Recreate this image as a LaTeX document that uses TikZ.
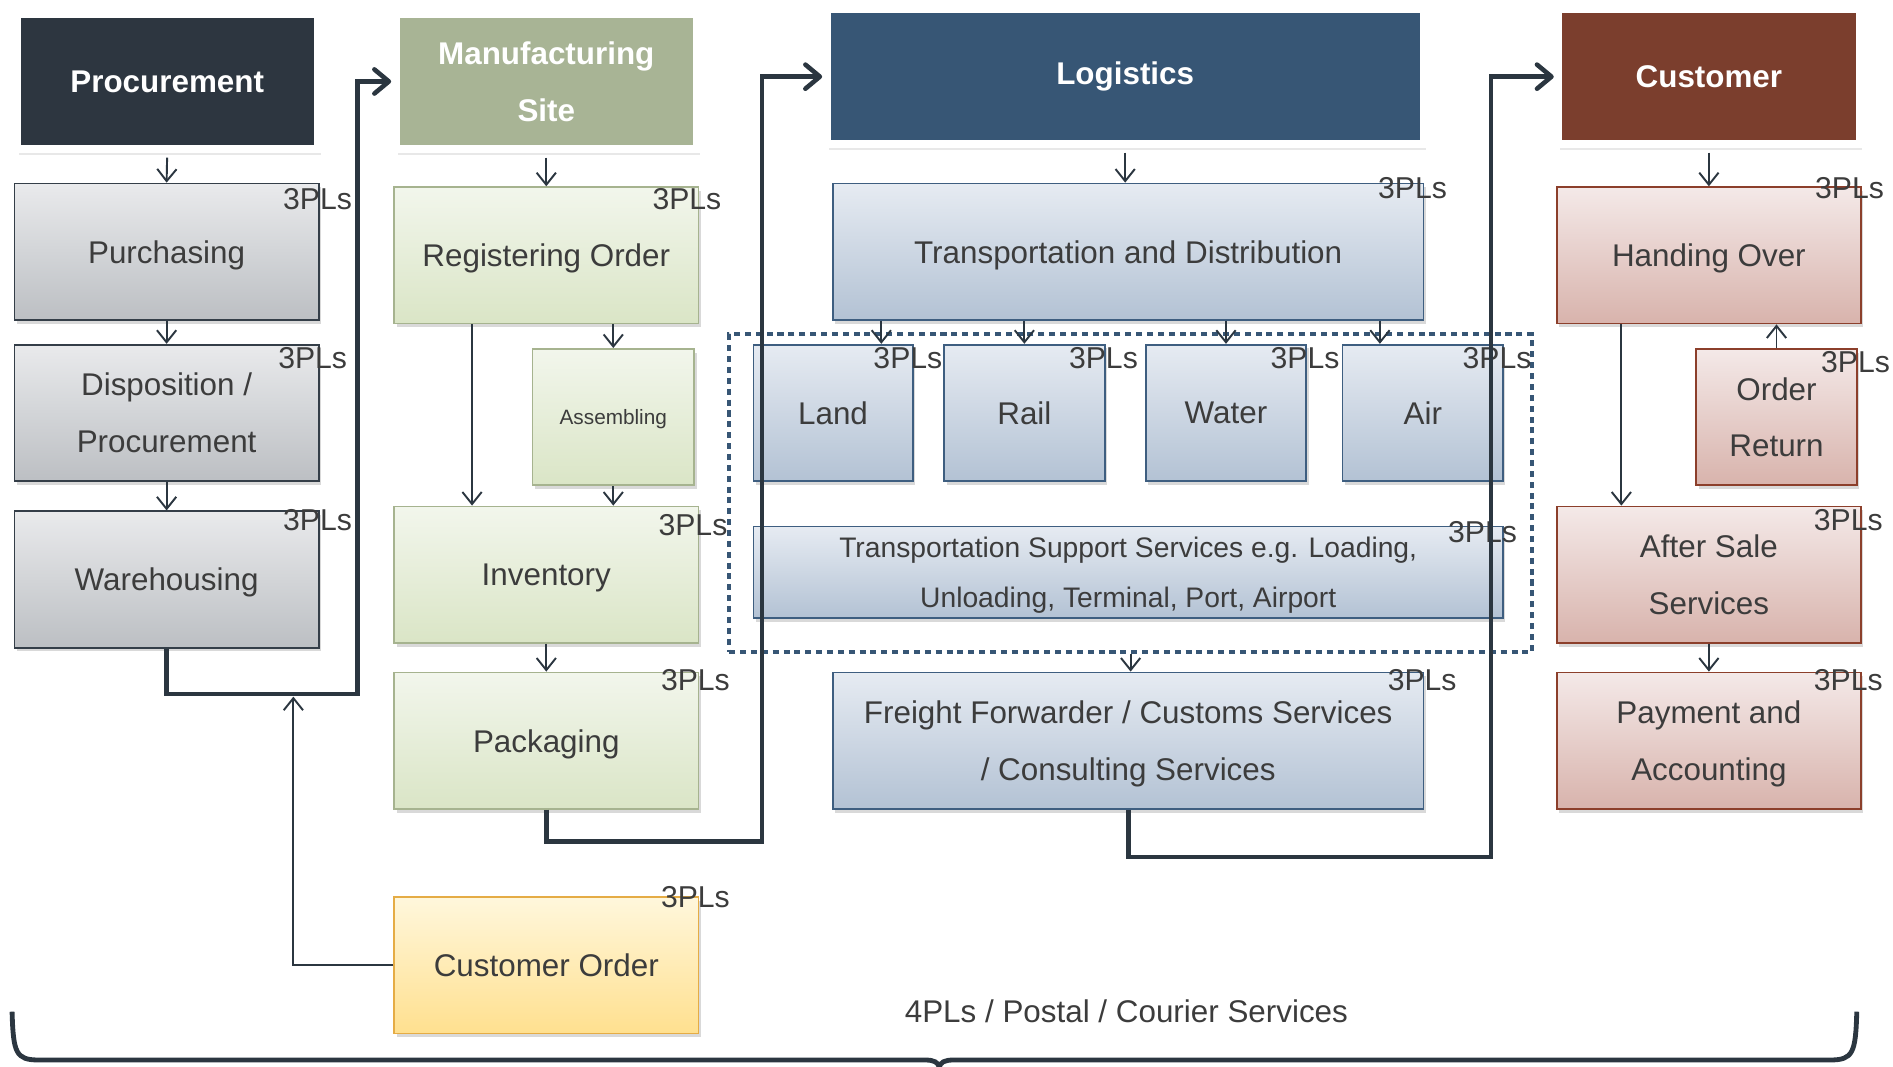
\documentclass[tikz,border=0pt]{standalone}
\usepackage{fontspec}
\setmainfont{Liberation Sans}
\usetikzlibrary{arrows.meta,shadows,positioning}

\definecolor{procC}{HTML}{2D3640}
\definecolor{manuC}{HTML}{A8B495}
\definecolor{logiC}{HTML}{375675}
\definecolor{custC}{HTML}{7B3E2D}
\definecolor{grayT}{HTML}{E9EAEC}
\definecolor{grayB}{HTML}{BCBFC3}
\definecolor{grayD}{HTML}{343E48}
\definecolor{greenT}{HTML}{F2F6EC}
\definecolor{greenB}{HTML}{DAE5C6}
\definecolor{greenD}{HTML}{A6B38F}
\definecolor{blueT}{HTML}{E6EBF2}
\definecolor{blueB}{HTML}{B3C2D4}
\definecolor{blueD}{HTML}{3E5E80}
\definecolor{pinkT}{HTML}{F4E9E8}
\definecolor{pinkB}{HTML}{D8B3AC}
\definecolor{pinkD}{HTML}{8C3F2B}
\definecolor{yellowT}{HTML}{FFF7DC}
\definecolor{yellowB}{HTML}{FFE08F}
\definecolor{yellowD}{HTML}{E5AC45}
\definecolor{txtC}{HTML}{3C3C3C}
\definecolor{lineD}{HTML}{2B3640}

\begin{document}
\begin{tikzpicture}[
        x=0.5pt, y=-0.5pt,
        every node/.style={align=center, text=txtC},
        box/.style={rectangle, font=\fontsize{13}{23.5}\selectfont, minimum width=126pt, minimum height=56.5pt,
            text depth=0pt, line width=0.7pt, drop shadow={shadow xshift=1pt, shadow yshift=-1.5pt, opacity=0.3}},
        graybox/.style={box, top color=grayT, bottom color=grayB, draw=grayD},
        greenbox/.style={box, top color=greenT, bottom color=greenB, draw=greenD},
        bluebox/.style={box, top color=blueT, bottom color=blueB, draw=blueD},
        pinkbox/.style={box, top color=pinkT, bottom color=pinkB, draw=pinkD},
        yellowbox/.style={box, top color=yellowT, bottom color=yellowB, draw=yellowD},
        head/.style={rectangle, font=\bfseries\fontsize{13}{23.5}\selectfont, text=white, draw=white, line width=3.5pt,
            minimum width=125pt, minimum height=56pt,
            drop shadow={shadow xshift=1pt, shadow yshift=-2.4pt, opacity=0.18}},
        pl/.style={font=\fontsize{12.5}{14}\selectfont, inner sep=0pt},
        dotgroup/.style={rectangle, draw=logiC, line width=1.7pt, dash pattern=on 2.5pt off 2pt},
        link/.style={draw=lineD, line width=0.8pt, -{Straight Barb[length=5pt,width=8pt]}},
        flow/.style={draw=lineD, line width=1.9pt, -{Straight Barb[length=6pt,width=10pt,round]}}
    ]
    \useasboundingbox (0,0) rectangle (1568,883);

    % headers
    \node[head, fill=procC] (proc) at (138.5,67.5) {Procurement};
    \node[head, fill=manuC] (manu) at (452.5,67.5) {Manufacturing\\Site};
    \node[head, fill=logiC, minimum width=247.5pt] (logi) at (932,63.5) {Logistics};
    \node[head, fill=custC] (cust) at (1415.5,63.5) {Customer};

    % procurement
    \node[graybox] (purch) at (138,208.5) {Purchasing};
    \node[graybox] (dispo) at (138,342) {Disposition /\\Procurement};
    \node[graybox] (ware) at (138,480) {Warehousing};

    % manufacturing site
    \node[greenbox] (regis) at (452.5,211.5) {Registering Order};
    \node[greenbox, minimum width=67pt, font=\fontsize{8.6}{10}\selectfont] (assem) at (508,345.5) {Assembling};
    \node[greenbox] (inven) at (452.5,476) {Inventory};
    \node[greenbox] (packa) at (452.5,613.5) {Packaging};
    \node[yellowbox] (corder) at (452.5,799.5) {Customer Order};

    % logistics
    \node[dotgroup, minimum width=332.5pt, minimum height=131.5pt] (modes) at (936.5,408.5) {};
    \node[bluebox, minimum width=244.5pt] (trans) at (934.5,208.5) {Transportation and Distribution};
    \node[bluebox, minimum width=66pt] (land) at (690,342) {Land};
    \node[bluebox, minimum width=66.5pt] (rail) at (848.5,342) {Rail};
    \node[bluebox, minimum width=66.5pt] (water) at (1015.5,342) {Water};
    \node[bluebox, minimum width=66.5pt] (air) at (1178.5,342) {Air};
    \node[bluebox, minimum width=310.5pt, minimum height=38pt, inner sep=1pt, font=\fontsize{11.7}{21}\selectfont] (support) at (934.5,474)
        {Transportation Support Services e.g. Loading,\\Unloading, Terminal, Port, Airport};
    \node[bluebox, minimum width=244.5pt] (freight) at (934.5,613.5) {Freight Forwarder / Customs Services\\/ Consulting Services};

    % customer
    \node[pinkbox] (hand) at (1415.5,211.5) {Handing Over};
    \node[pinkbox, minimum width=66.5pt] (oret) at (1471.5,345.5) {Order\\Return};
    \node[pinkbox] (after) at (1415.5,476) {After Sale\\Services};
    \node[pinkbox] (pay) at (1415.5,613.5) {Payment and\\Accounting};

    % 3PLs tags
    \node[pl] (purchpl) at (263,165) {3PLs};
    \node[pl] (dispopl) at (259,297) {3PLs};
    \node[pl] (warepl) at (263,431) {3PLs};
    \node[pl] (regispl) at (569,165) {3PLs};
    \node[pl] (invenpl) at (574,435) {3PLs};
    \node[pl] (packapl) at (576,563) {3PLs};
    \node[pl] (corderpl) at (576,743) {3PLs};
    \node[pl] (transpl) at (1170,156) {3PLs};
    \node[pl] (landpl) at (752,297) {3PLs};
    \node[pl] (railpl) at (914,297) {3PLs};
    \node[pl] (waterpl) at (1081,297) {3PLs};
    \node[pl] (airpl) at (1240,297) {3PLs};
    \node[pl] (supportpl) at (1228,441) {3PLs};
    \node[pl] (freightpl) at (1178,563) {3PLs};
    \node[pl] (handpl) at (1532,156) {3PLs};
    \node[pl] (oretpl) at (1537,300) {3PLs};
    \node[pl] (afterpl) at (1531,431) {3PLs};
    \node[pl] (paypl) at (1531,563) {3PLs};

    % thin links
    \draw[link, shorten <=1.75pt] (proc.south) -- (purch.north);
    \draw[link] (purch.south) -- (dispo.north);
    \draw[link] (dispo.south) -- (ware.north);
    \draw[link, shorten <=1.75pt] (manu.south) -- (regis.north);
    \draw[link] ([xshift=-30.75pt]regis.south) -- ([xshift=-30.75pt]regis.south |- inven.north);
    \draw[link] (assem.north |- regis.south) -- (assem.north);
    \draw[link] (assem.south) -- (assem.south |- inven.north);
    \draw[link] (inven.south) -- (packa.north);
    \coordinate (joinA) at (243,577);
    \draw[link] (corder.west) -| (joinA);
    \draw[link, shorten <=1.75pt] (logi.south) -- (logi.south |- trans.north);
    \draw[link] ([xshift=20pt]land.north |- trans.south) -- ([xshift=20pt]land.north);
    \draw[link] (rail.north |- trans.south) -- (rail.north);
    \draw[link] (water.north |- trans.south) -- (water.north);
    \draw[link] ([xshift=-17.75pt]air.north |- trans.south) -- ([xshift=-17.75pt]air.north);
    \draw[link] (modes.south) -- (modes.south |- freight.north);
    \draw[link, shorten <=1.75pt] (cust.south) -- (cust.south |- hand.north);
    \draw[link] ([xshift=-36.25pt]hand.south) -- ([xshift=-36.25pt]hand.south |- after.north);
    \draw[link] (oret.north) -- (oret.north |- hand.south);
    \draw[link] (after.south) -- (pay.north);

    % thick flow
    \coordinate (bendA) at (296,575);
    \coordinate (bendB) at (631,697);
    \coordinate (bendC) at (1235,710);
    \draw[flow] (ware.south) |- (bendA) |- (manu.west);
    \draw[flow] (packa.south) |- (bendB) |- (logi.west);
    \draw[flow] (freight.south) |- (bendC) |- (cust.west);

    % bottom brace
    \node[font=\fontsize{13}{15}\selectfont] (fourpl) at (933,838) {4PLs / Postal / Courier Services};
    \draw[draw=lineD, line width=2pt] (10,838) .. controls (11,872) and (13,878) .. (32,878) -- (766,878)
        .. controls (774,878) and (777,880) .. (778,884) .. controls (779,880) and (782,878) .. (790,878)
        -- (1516,878) .. controls (1535,878) and (1537,872) .. (1538,838);
\end{tikzpicture}
\end{document}
